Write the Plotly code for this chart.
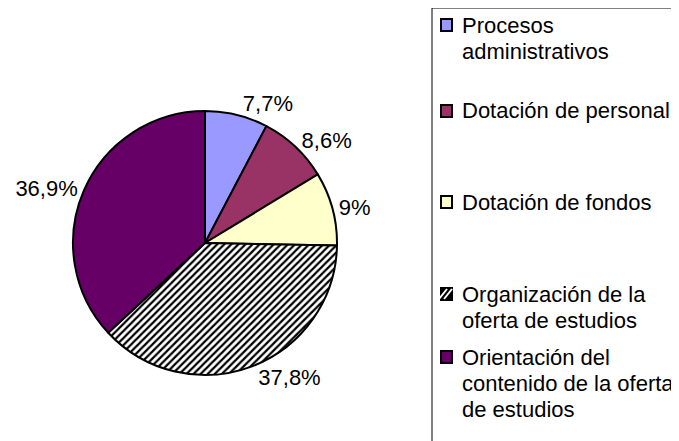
import plotly.graph_objects as go

labels = ["Procesos<br>administrativos", "Dotación de personal", "Dotación de fondos",
          "Organización de la<br>oferta de estudios",
          "Orientación del<br>contenido de la oferta<br>de estudios"]
values = [7.7, 8.6, 9.0, 37.8, 36.9]
colors = ["#9999FF", "#993366", "#FFFFCC", "#FFFFFF", "#660066"]
patterns = ["", "", "", "/", ""]

pct_text = [f"{v:g}".replace(".", ",") + "%" for v in values]

# page body has an 8px margin, so work in screen pixels and shift
OFF = 8
W, H = 679 - OFF, 441 - OFF


def sx(x):
    return (x - OFF) / W


def sy(y):
    return 1 - (y - OFF) / H


cx, cy, r = 205, 243, 132

fig = go.Figure(go.Pie(
    labels=labels,
    values=values,
    text=pct_text,
    textinfo="text",
    textposition="outside",
    sort=False,
    direction="clockwise",
    rotation=0,
    hoverinfo="skip",
    automargin=False,
    showlegend=False,
    marker=dict(colors=colors, line=dict(color="black", width=2),
                pattern=dict(shape=patterns, fgcolor="black", bgcolor="white",
                             size=5, solidity=0.45)),
    textfont=dict(family="Liberation Sans, Arial", size=22, color="black"),
    domain=dict(x=[sx(cx - r), sx(cx + r)], y=[sy(cy + r), sy(cy - r)]),
))

# legend drawn by hand: box edges, swatches and text lines
shapes = [
    dict(type="line", xref="paper", yref="paper", x0=sx(432), x1=1.01, y0=sy(8), y1=sy(8),
         line=dict(color="black", width=1)),
    dict(type="line", xref="paper", yref="paper", x0=sx(432), x1=sx(432), y0=sy(8), y1=-0.02,
         line=dict(color="black", width=1)),
]
annotations = []
first_line = [25, 111, 202, 294, 357]
line_gap = 26
for lab, col, pat, y0 in zip(labels, colors, patterns, first_line):
    sq = dict(type="rect", xref="paper", yref="paper",
              x0=sx(441), x1=sx(452), y0=sy(y0 + 6), y1=sy(y0 - 6),
              fillcolor="black" if pat else col, line=dict(color="black", width=2))
    shapes.append(sq)
    if pat:
        for d in (-3, 2):
            shapes.append(dict(type="line", xref="paper", yref="paper",
                               x0=sx(442 + d), y0=sy(y0 + 5), x1=sx(450 + d), y1=sy(y0 - 5),
                               line=dict(color="white", width=2)))
    for k, line in enumerate(lab.split("<br>")):
        annotations.append(dict(text=line, xref="paper", yref="paper",
                                x=sx(460), y=sy(y0 + k * line_gap),
                                xanchor="left", yanchor="middle", showarrow=False,
                                font=dict(family="Liberation Sans, Arial", size=22, color="black")))

fig.update_layout(
    width=W, height=H,
    margin=dict(l=0, r=0, t=0, b=0, autoexpand=False),
    paper_bgcolor="white",
    plot_bgcolor="white",
    showlegend=False,
    shapes=shapes,
    annotations=annotations,
)

fig.write_html("out.html")
